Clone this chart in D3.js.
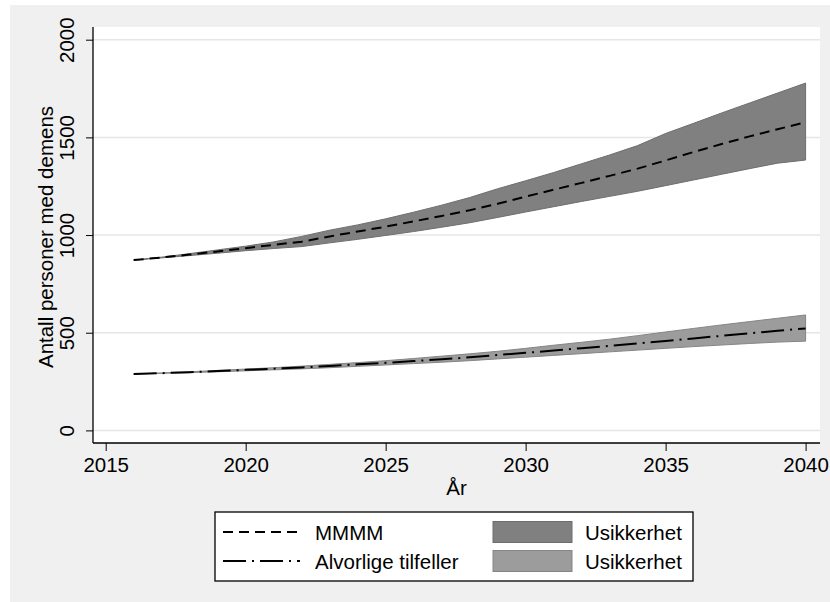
<!DOCTYPE html>
<html lang="nb">
<head>
    <meta charset="UTF-8">
    <title>Antall personer med demens</title>
    <script src="https://d3js.org/d3.v7.min.js"></script>
    <style>
        body { margin: 0; background: #fff; }
        svg text { font-family: "Liberation Sans", Arial, sans-serif; fill: #000; }
        .grid line { stroke: #e6e6e6; stroke-width: 1.5px; }
        .axis path { display: none; }
        .axis line { stroke: #000; stroke-width: 1px; }
        .axis text { font-size: 20.5px; }
    </style>
</head>
<body>
    <div id="chart"></div>
    <script>
        const years = d3.range(2016, 2041);

        // MMMM (dashed) and its uncertainty band
        const mmmm = [872, 885, 900, 916, 933, 950, 966, 993, 1018, 1043, 1070, 1098, 1127,
                      1160, 1197, 1232, 1267, 1303, 1340, 1382, 1425, 1466, 1505, 1542, 1577];
        const mmmmHigh = [872, 887, 905, 924, 943, 965, 993, 1025, 1052, 1083, 1117, 1153, 1192,
                          1237, 1278, 1320, 1365, 1410, 1458, 1520, 1572, 1625, 1676, 1727, 1778];
        const mmmmLow = [872, 883, 895, 907, 920, 931, 941, 960, 978, 998, 1018, 1040, 1063,
                         1090, 1118, 1145, 1172, 1198, 1224, 1253, 1282, 1311, 1340, 1368, 1384];

        // Alvorlige tilfeller (dash-dot) and its uncertainty band
        const severe = [289, 293, 298, 304, 310, 316, 322, 330, 338, 346, 355, 364, 374,
                        386, 397, 409, 421, 433, 445, 458, 471, 484, 497, 510, 522];
        const severeHigh = [289, 294, 300, 307, 314, 321, 329, 338, 347, 357, 368, 380, 392,
                            405, 420, 436, 451, 467, 485, 504, 522, 540, 557, 574, 591];
        const severeLow = [289, 292, 296, 300, 305, 310, 315, 321, 328, 335, 342, 349, 357,
                           366, 375, 384, 393, 402, 411, 420, 429, 437, 445, 452, 457];

        const xTicks = [2015, 2020, 2025, 2030, 2035, 2040];
        const yTicks = [0, 500, 1000, 1500, 2000];

        const legendLines = ["MMMM", "Alvorlige tilfeller"];
        const legendBands = ["Usikkerhet", "Usikkerhet"];

        const width = 830, height = 602;
        const plot = { left: 93, right: 820, top: 27, bottom: 443 };

        const svg = d3.select("#chart").append("svg")
            .attr("width", width)
            .attr("height", height);

        // graph region + plot region
        svg.append("rect")
            .attr("x", 10).attr("y", 5)
            .attr("width", width - 10).attr("height", height - 5)
            .attr("fill", "#f0f0f0");
        svg.append("rect")
            .attr("x", plot.left).attr("y", plot.top)
            .attr("width", plot.right - plot.left).attr("height", plot.bottom - plot.top)
            .attr("fill", "#fff");

        const x = d3.scaleLinear().domain([2015, 2040]).range([105.7, 805.6]);
        const y = d3.scaleLinear().domain([0, 2000]).range([430.4, 39.7]);

        // gridlines
        svg.append("g").attr("class", "grid")
            .selectAll("line")
            .data(yTicks)
            .join("line")
            .attr("x1", plot.left).attr("x2", plot.right)
            .attr("y1", d => y(d)).attr("y2", d => y(d));

        const area = (lo, hi) => d3.area()
            .x((d, i) => x(years[i]))
            .y0((d, i) => y(lo[i]))
            .y1((d, i) => y(hi[i]))(years);

        const line = vals => d3.line()
            .x((d, i) => x(years[i]))
            .y((d, i) => y(vals[i]))(years);

        svg.append("path")
            .attr("d", area(mmmmLow, mmmmHigh))
            .attr("fill", "#808080")
            .attr("stroke", "#6e6e6e")
            .attr("stroke-width", 1);

        svg.append("path")
            .attr("d", area(severeLow, severeHigh))
            .attr("fill", "#9c9c9c")
            .attr("stroke", "#858585")
            .attr("stroke-width", 1);

        svg.append("path")
            .attr("d", line(mmmm))
            .attr("fill", "none")
            .attr("stroke", "#000")
            .attr("stroke-width", 2)
            .attr("stroke-dasharray", "10,6");

        svg.append("path")
            .attr("d", line(severe))
            .attr("fill", "none")
            .attr("stroke", "#000")
            .attr("stroke-width", 2)
            .attr("stroke-dasharray", "23,6,2,6");

        // axes
        svg.append("g")
            .attr("class", "axis")
            .attr("transform", `translate(${plot.left},0)`)
            .call(d3.axisLeft(y).tickValues(yTicks).tickSize(7).tickFormat(d3.format("d")))
            .selectAll("text")
            .attr("x", 0).attr("dy", 0)
            .attr("text-anchor", "middle")
            .attr("transform", "translate(-19,0) rotate(-90)");

        svg.append("g")
            .attr("class", "axis")
            .attr("transform", `translate(0,${plot.bottom})`)
            .call(d3.axisBottom(x).tickValues(xTicks).tickSize(8).tickFormat(d3.format("d")))
            .selectAll("text")
            .attr("y", 29).attr("dy", 0);

        svg.append("line")
            .attr("x1", plot.left).attr("x2", plot.left)
            .attr("y1", plot.top).attr("y2", plot.bottom)
            .attr("stroke", "#000").attr("stroke-width", 1.3);
        svg.append("line")
            .attr("x1", plot.left).attr("x2", plot.right)
            .attr("y1", plot.bottom).attr("y2", plot.bottom)
            .attr("stroke", "#000").attr("stroke-width", 1.3);

        // axis titles
        svg.append("text")
            .attr("transform", `translate(53,${(plot.top + plot.bottom) / 2 + 2}) rotate(-90)`)
            .attr("text-anchor", "middle")
            .style("font-size", "20.5px")
            .text("Antall personer med demens");

        svg.append("text")
            .attr("x", (plot.left + plot.right) / 2)
            .attr("y", 495)
            .attr("text-anchor", "middle")
            .style("font-size", "20.5px")
            .text("År");

        // legend
        const legend = svg.append("g").attr("class", "legend");
        legend.append("rect")
            .attr("x", 215).attr("y", 512)
            .attr("width", 478).attr("height", 69)
            .attr("fill", "#fff")
            .attr("stroke", "#000")
            .attr("stroke-width", 1.3);

        const rowY = [532, 561];
        const dashes = ["10,6", "23,6,2,6"];
        const bandFill = ["#808080", "#9c9c9c"];
        const bandStroke = ["#6e6e6e", "#858585"];

        legendLines.forEach((label, i) => {
            legend.append("line")
                .attr("x1", 223).attr("x2", 300)
                .attr("y1", rowY[i]).attr("y2", rowY[i])
                .attr("stroke", "#000")
                .attr("stroke-width", 2)
                .attr("stroke-dasharray", dashes[i]);
            legend.append("text")
                .attr("x", 315).attr("y", rowY[i] + 7.5)
                .style("font-size", "20.5px")
                .text(label);
        });

        legendBands.forEach((label, i) => {
            legend.append("rect")
                .attr("x", 493).attr("y", rowY[i] - 10.5)
                .attr("width", 79).attr("height", 21)
                .attr("fill", bandFill[i])
                .attr("stroke", bandStroke[i])
                .attr("stroke-width", 1);
            legend.append("text")
                .attr("x", 585).attr("y", rowY[i] + 7.5)
                .style("font-size", "20.5px")
                .text(label);
        });
    </script>
</body>
</html>
